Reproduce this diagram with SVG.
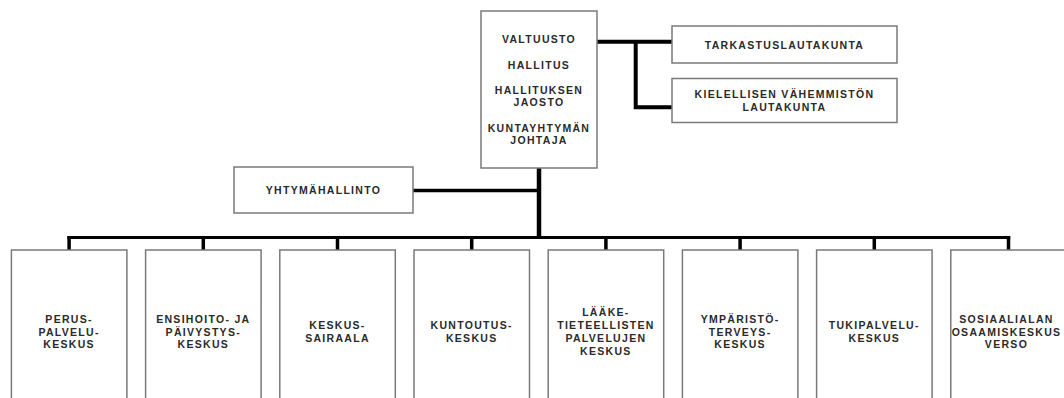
<svg xmlns="http://www.w3.org/2000/svg" width="1064" height="398" viewBox="0 0 1064 398">
<style>
.box{fill:#fff;stroke:#7a7a7a;stroke-width:1.5}
.t{font-family:"Liberation Sans",Arial,sans-serif;font-weight:bold;font-size:10.5px;letter-spacing:1.3px;fill:#2a2a2a;text-anchor:middle}
.ln{stroke:#000;fill:none;stroke-linecap:butt;stroke-linejoin:miter}
</style>
<rect width="1064" height="398" fill="#fff"/>
<g id="connectors">
<path class="ln" stroke-width="4" d="M591.5 41.7H672M635.7 41.7V107.3H672"/>
<path class="ln" stroke-width="4.5" d="M539 168V239"/>
<path class="ln" stroke-width="3.5" d="M413 190.6H539"/>
<path class="ln" stroke-width="3.2" d="M67.4 237.5H1010.2"/>
<path class="ln" stroke-width="3.5" d="M69.1 236V250M203.3 236V250M337.5 236V250M471.7 236V250M605.9 236V250M740.1 236V250M874.3 236V250M1008.5 236V250"/>
</g>
<g id="top">
<rect class="box" x="481" y="11" width="116" height="157"/>
<text class="t" x="539" y="43">VALTUUSTO</text>
<text class="t" x="539" y="68.7">HALLITUS</text>
<text class="t" x="539" y="94.4">HALLITUKSEN</text>
<text class="t" x="539" y="106.4">JAOSTO</text>
<text class="t" x="539" y="132">KUNTAYHTYMÄN</text>
<text class="t" x="539" y="143.7">JOHTAJA</text>
</g>
<g id="tarkastus">
<rect class="box" x="672" y="26" width="225" height="37"/>
<text class="t" x="784.5" y="48.7">TARKASTUSLAUTAKUNTA</text>
</g>
<g id="kielellisen">
<rect class="box" x="672" y="78.5" width="225" height="44"/>
<text class="t" x="784.5" y="98">KIELELLISEN VÄHEMMISTÖN</text>
<text class="t" x="784.5" y="111">LAUTAKUNTA</text>
</g>
<g id="yhtymahallinto">
<rect class="box" x="234" y="167" width="179" height="46"/>
<text class="t" x="323.5" y="194.3">YHTYMÄHALLINTO</text>
</g>
<g id="perus">
<rect class="box" x="11.4" y="250" width="115.5" height="160"/>
<text class="t" x="69.1" y="323.1">PERUS-</text>
<text class="t" x="69.1" y="335.5">PALVELU-</text>
<text class="t" x="69.1" y="348.3">KESKUS</text>
</g>
<g id="ensihoito">
<rect class="box" x="145.6" y="250" width="115.5" height="160"/>
<text class="t" x="203.3" y="323.1">ENSIHOITO- JA</text>
<text class="t" x="203.3" y="335.5">PÄIVYSTYS-</text>
<text class="t" x="203.3" y="348.3">KESKUS</text>
</g>
<g id="keskussairaala">
<rect class="box" x="279.8" y="250" width="115.5" height="160"/>
<text class="t" x="337.5" y="329.3">KESKUS-</text>
<text class="t" x="337.5" y="342.1">SAIRAALA</text>
</g>
<g id="kuntoutus">
<rect class="box" x="414" y="250" width="115.5" height="160"/>
<text class="t" x="471.7" y="329.3">KUNTOUTUS-</text>
<text class="t" x="471.7" y="342.1">KESKUS</text>
</g>
<g id="laaketieteellisten">
<rect class="box" x="548.2" y="250" width="115.5" height="160"/>
<text class="t" x="605.9" y="315.5">LÄÄKE-</text>
<text class="t" x="605.9" y="329.3">TIETEELLISTEN</text>
<text class="t" x="605.9" y="342.1">PALVELUJEN</text>
<text class="t" x="605.9" y="354.5">KESKUS</text>
</g>
<g id="ymparisto">
<rect class="box" x="682.4" y="250" width="115.5" height="160"/>
<text class="t" x="740.1" y="323.1">YMPÄRISTÖ-</text>
<text class="t" x="740.1" y="335.5">TERVEYS-</text>
<text class="t" x="740.1" y="348.3">KESKUS</text>
</g>
<g id="tukipalvelu">
<rect class="box" x="816.6" y="250" width="115.5" height="160"/>
<text class="t" x="874.3" y="329.3">TUKIPALVELU-</text>
<text class="t" x="874.3" y="342.1">KESKUS</text>
</g>
<g id="sosiaaliala">
<rect class="box" x="950.8" y="250" width="115.5" height="160"/>
<text class="t" x="1006.5" y="323.1">SOSIAALIALAN</text>
<text class="t" x="1006.5" y="335.5">OSAAMISKESKUS</text>
<text class="t" x="1006.5" y="348.3">VERSO</text>
</g>
</svg>
